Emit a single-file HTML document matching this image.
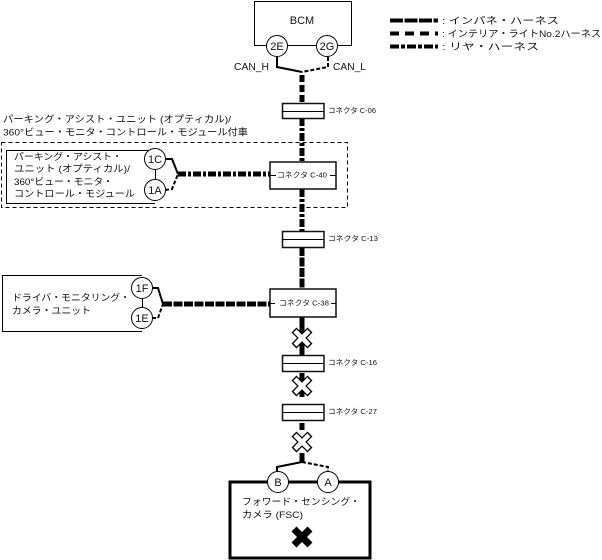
<!DOCTYPE html>
<html>
<head>
<meta charset="utf-8">
<style>
html,body{margin:0;padding:0;background:#fff;}
svg{display:block;}
text{font-family:"Liberation Sans","Noto Sans CJK JP",sans-serif;fill:#111;}
.t{font-size:9.5px;}
.c{font-size:7.5px;}
.n{font-size:11px;text-anchor:middle;}
.box{fill:#fff;stroke:#000;stroke-width:1;}
.b2{fill:#fff;stroke:#111;stroke-width:1.5;}
.thin{fill:none;stroke:#000;stroke-width:2;}
.dsh{fill:none;stroke:#000;stroke-width:2;stroke-dasharray:4 2;}
.ip{fill:none;stroke:#000;stroke-width:5;stroke-dasharray:9 1.5;}
.ih{fill:none;stroke:#000;stroke-width:5;stroke-dasharray:8 4;}
.rh{fill:none;stroke:#000;stroke-width:5;stroke-dasharray:8 2 3 2;}
.hl{fill:none;stroke:#000;stroke-width:1;}
</style>
</head>
<body>
<svg width="602" height="560" viewBox="0 0 602 560" xmlns="http://www.w3.org/2000/svg">
<rect width="602" height="560" fill="#fff"/>

<!-- legend -->
<path class="ip" d="M390 20.500H438" style="stroke-width:4;stroke-dasharray:13 1.5"/>
<path class="ih" d="M390 33.500H438" style="stroke-width:4;stroke-dasharray:9 6"/>
<path class="rh" d="M390 46.500H438" style="stroke-width:4;stroke-dasharray:9 2 4 2"/>
<text class="t" x="442" y="24" textLength="117" lengthAdjust="spacingAndGlyphs">: インパネ・ハーネス</text>
<text class="t" x="442" y="37" textLength="159" lengthAdjust="spacingAndGlyphs">: インテリア・ライトNo.2ハーネス</text>
<text class="t" x="442" y="50" textLength="97" lengthAdjust="spacingAndGlyphs">: リヤ・ハーネス</text>

<!-- top title -->
<text class="t" x="3" y="122.500" textLength="228" lengthAdjust="spacingAndGlyphs">パーキング・アシスト・ユニット (オプティカル)/</text>
<text class="t" x="3" y="135.500" textLength="245" lengthAdjust="spacingAndGlyphs">360°ビュー・モニタ・コントロール・モジュール付車</text>

<!-- dashed box -->
<rect x="1.500" y="142.500" width="346" height="65" fill="none" stroke="#000" stroke-width="1" stroke-dasharray="4 3"/>

<!-- main vertical -->
<path class="ih" d="M302 75V103" style="stroke-dasharray:7 3"/>
<path class="rh" d="M302 118V162"/>
<path class="rh" d="M302 189V231"/>
<path class="ip" d="M302 247V289"/>
<path d="M302 317V355M302 373V397M302 423V430M302 453V462" stroke="#000" stroke-width="5" fill="none"/>

<!-- BCM -->
<rect x="254.500" y="1.500" width="97" height="44" class="box"/>
<text class="n" x="302" y="24">BCM</text>
<path class="thin" d="M277 57V67L302 72"/>
<path class="dsh" d="M328 57V67L302 72"/>
<circle cx="277" cy="46" r="10.500" class="box"/>
<circle cx="327" cy="46" r="10.500" class="box"/>
<text class="n" x="277" y="50">2E</text>
<text class="n" x="327" y="50">2G</text>
<text x="234" y="70" font-size="10.500" textLength="35" lengthAdjust="spacingAndGlyphs">CAN_H</text>
<text x="333" y="70" font-size="10.500" textLength="33" lengthAdjust="spacingAndGlyphs">CAN_L</text>

<!-- connectors -->
<g>
<rect x="282.500" y="103.500" width="41.500" height="15" class="b2"/><path d="M282 111.500H324" class="hl"/>
<text class="c" x="328" y="113" textLength="48" lengthAdjust="spacingAndGlyphs">コネクタ C-06</text>

<rect x="282.500" y="231.500" width="41.500" height="16" class="b2"/><path d="M282 239.500H324" class="hl"/>
<text class="c" x="328" y="241" textLength="50" lengthAdjust="spacingAndGlyphs">コネクタ C-13</text>

<rect x="282.500" y="355.500" width="41.500" height="16" class="b2"/><path d="M282 363.500H324" class="hl"/>
<text class="c" x="328" y="365" textLength="49" lengthAdjust="spacingAndGlyphs">コネクタ C-16</text>

<rect x="282.500" y="404.500" width="41.500" height="16" class="b2"/><path d="M282 412.500H324" class="hl"/>
<text class="c" x="328" y="414" textLength="49" lengthAdjust="spacingAndGlyphs">コネクタ C-27</text>

<rect x="270" y="162" width="66" height="27" class="b2"/>
<path d="M270 175.500H276M330 175.500H336" class="hl"/>
<text class="c" x="277" y="177.500" textLength="50" lengthAdjust="spacingAndGlyphs">コネクタ C-40</text>

<rect x="270" y="289" width="66" height="28" class="b2"/>
<path d="M270 303.500H275M331 303.500H336" class="hl"/>
<text class="c" x="279" y="305.500" textLength="50" lengthAdjust="spacingAndGlyphs">コネクタ C-38</text>
</g>

<!-- parking unit -->
<path d="M155 150.500H6.500V203.500H155" fill="none" stroke="#000" stroke-width="1"/>
<path d="M155.500 159V190" class="hl"/>
<path class="thin" d="M165 159H172L178 174"/>
<path class="dsh" d="M165 190L172 189L178 174"/>
<path class="rh" d="M178 174H270"/>
<circle cx="155" cy="159" r="10.500" class="box"/>
<circle cx="155" cy="190" r="10.500" class="box"/>
<text class="n" x="155" y="163">1C</text>
<text class="n" x="155" y="194">1A</text>
<text class="t" x="14" y="160" textLength="108" lengthAdjust="spacingAndGlyphs">パーキング・アシスト・</text>
<text class="t" x="14" y="172" textLength="116" lengthAdjust="spacingAndGlyphs">ユニット (オプティカル)/</text>
<text class="t" x="14" y="185" textLength="99" lengthAdjust="spacingAndGlyphs">360°ビュー・モニタ・</text>
<text class="t" x="14" y="197" textLength="121" lengthAdjust="spacingAndGlyphs">コントロール・モジュール</text>

<!-- driver monitor -->
<path d="M142 275.500H2.500V331.500H142" fill="none" stroke="#000" stroke-width="1"/>
<path d="M142.500 288V318" class="hl"/>
<path class="thin" d="M152 288H158L163 304"/>
<path class="dsh" d="M152 318H158L163 304"/>
<path class="ip" d="M163 304H270"/>
<circle cx="142" cy="288" r="10.500" class="box"/>
<circle cx="142" cy="318" r="10.500" class="box"/>
<text class="n" x="142" y="292">1F</text>
<text class="n" x="142" y="322">1E</text>
<text class="t" x="12" y="301" textLength="118" lengthAdjust="spacingAndGlyphs">ドライバ・モニタリング・</text>
<text class="t" x="12" y="314" textLength="79" lengthAdjust="spacingAndGlyphs">カメラ・ユニット</text>

<!-- X marks -->
<g fill="none" stroke-linecap="butt">
<path d="M294 330L310 346M310 330L294 346" stroke="#000" stroke-width="7"/>
<path d="M295 331L309 345M309 331L295 345" stroke="#fff" stroke-width="4.500"/>
<path d="M294 378L310 394M310 378L294 394" stroke="#000" stroke-width="7"/>
<path d="M295 379L309 393M309 379L295 393" stroke="#fff" stroke-width="4.500"/>
<path d="M294 434L310 450M310 434L294 450" stroke="#000" stroke-width="7"/>
<path d="M295 435L309 449M309 435L295 449" stroke="#fff" stroke-width="4.500"/>
</g>

<!-- FSC -->
<rect x="230" y="482" width="140" height="76" fill="#fff" stroke="#000" stroke-width="3"/>
<path class="thin" d="M302 462L277 467V472"/>
<path class="dsh" d="M302 462L328 467V472"/>
<circle cx="278" cy="482" r="10.500" class="box"/>
<circle cx="328" cy="482" r="10.500" class="box"/>
<text class="n" x="278" y="486">B</text>
<text class="n" x="328" y="486">A</text>
<text class="t" x="242" y="505" textLength="118" lengthAdjust="spacingAndGlyphs">フォワード・センシング・</text>
<text class="t" x="242" y="518" textLength="61" lengthAdjust="spacingAndGlyphs">カメラ (FSC)</text>
<path d="M294 529L310 545M310 529L294 545" stroke="#000" stroke-width="7" fill="none"/>
</svg>
</body>
</html>
